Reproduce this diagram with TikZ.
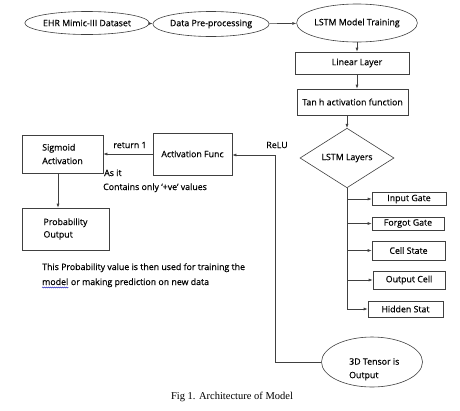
\documentclass[tikz,border=0pt]{standalone}
\usepackage{fontspec}
\setmainfont{Open Sans}[FakeBold=0.35]
\newfontfamily\capfont{Liberation Serif}
\usetikzlibrary{shapes.geometric,arrows.meta,calc,decorations.pathmorphing}
\begin{document}
\begin{tikzpicture}[x=1pt,y=-1pt,
  font=\fontsize{8.8}{10}\selectfont,
  line/.style={draw=black!75, line width=0.6pt},
  arr/.style={line, -{Latex[length=4pt,width=3pt]}},
  ell/.style={ellipse, line, inner sep=0pt},
  box/.style={rectangle, line, inner sep=0pt},
  txt/.style={inner sep=0pt, anchor=base west},
]
\useasboundingbox[fill=white] (0,0) rectangle (460,410);
% top row
\node[ell, minimum width=100pt, minimum height=23pt] (ehr) at (87,23) {EHR Mimic-III Dataset};
\node[ell, minimum width=94pt, minimum height=25pt] (pre) at (211,24) {Data Pre-processing};
\node[ell, minimum width=106pt, minimum height=38pt] (lstm) at (357,23) {LSTM Model Training};
\node[box, minimum width=114pt, minimum height=22pt] (lin) at (352,63) {\hspace{10pt}Linear Layer};
\node[box, minimum width=111pt, minimum height=26pt] (tanh) at (352.5,102) {Tan h activation function};
\node[diamond, line, inner sep=0pt, minimum width=94pt, minimum height=57pt] (dia) at (347,158) {LSTM Layers};
% gates
\node[box, minimum width=74pt, minimum height=13pt] (ig) at (409,199) {Input Gate};
\node[box, minimum width=72pt, minimum height=13pt] (fg) at (408,223.5) {Forgot Gate};
\node[box, minimum width=73pt, minimum height=19pt] (cs) at (408.5,250.5) {Cell State};
\node[box, minimum width=72pt, minimum height=18pt] (oc) at (409,280) {Output Cell};
\node[box, minimum width=75pt, minimum height=16pt] (hs) at (405.5,309) {Hidden Stat};
% tensor
\node[ell, minimum width=101pt, minimum height=50pt] (ten) at (372,362) {};
\node[inner sep=0pt, align=left, font=\fontsize{8.8}{13.5}\selectfont, anchor=north west] at (349,358) {3D Tensor is\\Output};
% left part
\node[box, minimum width=79pt, minimum height=42pt] (act) at (192.5,154) {Activation Func};
\node[box, minimum width=81pt, minimum height=38pt, align=left, font=\fontsize{8.8}{13.5}\selectfont] (sig) at (62.5,154) {Sigmoid\\ Activation};
\node[box, minimum width=87pt, minimum height=42pt, align=left, font=\fontsize{8.8}{12.5}\selectfont] (prob) at (65.5,229) {Probability\\Output};
% labels
\node[inner sep=0pt] (ret) at (130,145) {return 1};
\node[inner sep=0pt] (relu) at (277,145) {ReLU};
\node[txt] (asit) at (104,176) {As it};
\node[txt] (cont) at (103,190) {Contains only ‘+ve’ values};
\node[txt] (p1) at (42,270) {This Probability value is then used for training the};
\node[txt] (mdl) at (42,285) {model};
\node[txt] (p2) at (mdl.base east) {\ or making prediction on new data};
\draw[draw=blue!70!black, line width=0.4pt, decorate, decoration={snake, amplitude=0.5pt, segment length=2pt}] ($(mdl.base west)+(0,2.5)$) -- ($(mdl.base east)+(0,2.5)$);
\node[inner sep=0pt, font=\capfont\fontsize{10.5}{12}\selectfont] (cap) at (232,397) {Fig 1. Architecture of Model};
% connectors
\draw[arr] (ehr) -- (pre);
\draw[arr] (pre) -- (lstm);
\draw[arr] (lstm.south) -- (lstm.south |- lin.north);
\draw[arr] (lin.south -| lstm.south) -- (tanh.north -| lstm.south);
\draw[arr] (tanh.south -| dia.north) -- (dia.north);
\draw[line] (dia.south) -- (dia.south |- hs.west);
\foreach \g in {ig,fg,cs,oc,hs} \draw[arr] (dia.south |- \g.west) -- (\g.west);
\coordinate (turn) at (275,155);
\draw[arr] (ten.west) -| (turn) -- (turn -| act.east);
\draw[arr] (act.west |- sig.east) -- (sig.east);
\coordinate (sd) at (58,173);
\draw[arr] (sd) -- (sd |- prob.north);
\end{tikzpicture}
\end{document}
